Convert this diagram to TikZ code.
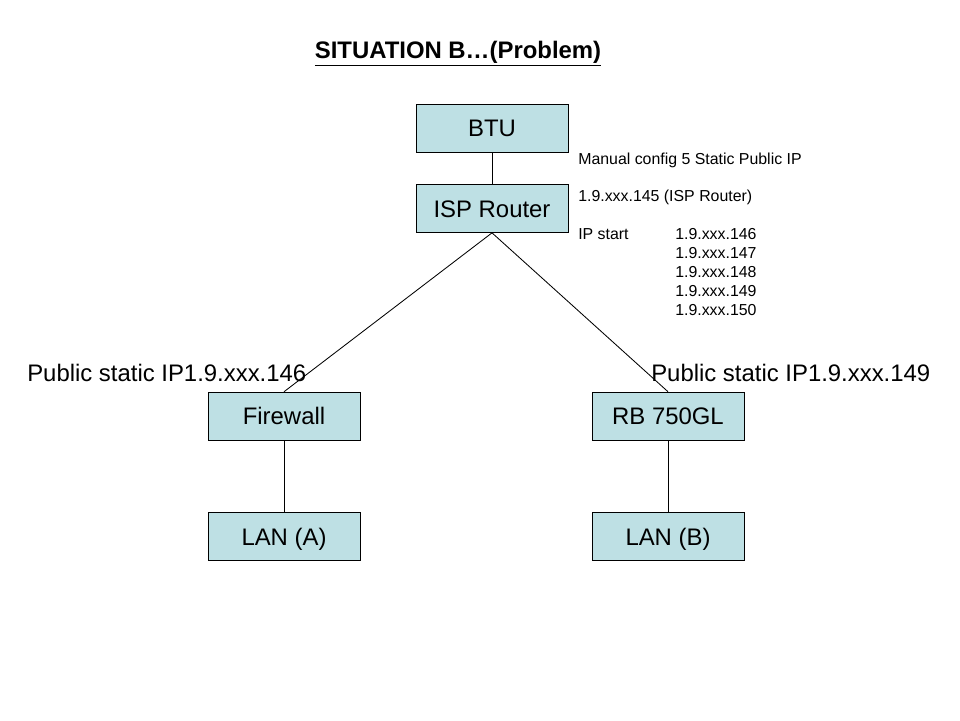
\documentclass[tikz,border=0pt]{standalone}
\usepackage{fontspec}
\setmainfont{Liberation Sans}
\usepackage{xcolor}
\usetikzlibrary{positioning}
\definecolor{boxfill}{RGB}{190,224,228}

\begin{document}
\begin{tikzpicture}[
  node distance=0.8cm,
  dev/.style={draw, fill=boxfill, minimum width=3.8cm, minimum height=1.2cm,
              inner sep=0pt, text height=12.2pt, text depth=0pt,
              font=\fontsize{17}{19}\selectfont},
  lbl/.style={inner sep=0pt, font=\fontsize{17}{19}\selectfont},
  wire/.style={line width=0.6pt}
]
\useasboundingbox (0,0) rectangle (24,-18);
\node[font=\bfseries\fontsize{17}{20}\selectfont] (title) at (11.45,-1.35) {\underline{SITUATION B…(Problem)}};
\node[dev] (btu) at (12.3,-3.2) {BTU};
\node[dev, below=of btu] (isp) {ISP Router};
\node[dev] (fw) at (7.1,-10.4) {Firewall};
\node[dev, below=1.8cm of fw] (lana) {LAN (A)};
\node[dev] (rb) at (16.7,-10.4) {RB 750GL};
\node[dev, below=1.8cm of rb] (lanb) {LAN (B)};
% address notes
\node[anchor=base west, inner sep=0pt, font=\fontsize{11.3}{13.5}\selectfont] (note) at (14.45,-4.1) {%
  \begin{tabular}[t]{@{}p{2.425cm}@{}l@{}}
  \multicolumn{2}{@{}l@{}}{Manual config 5 Static Public IP}\\
  \\
  \multicolumn{2}{@{}l@{}}{1.9.xxx.145 (ISP Router)}\\
  \\
  IP start & 1.9.xxx.146\\
           & 1.9.xxx.147\\
           & 1.9.xxx.148\\
           & 1.9.xxx.149\\
           & 1.9.xxx.150
  \end{tabular}};
\node[lbl, anchor=west] (ipa) at (0.675,-9.325) {Public static IP1.9.xxx.146};
\node[lbl, anchor=west] (ipb) at (16.275,-9.325) {Public static IP1.9.xxx.149};
\draw[wire] (btu) -- (isp);
\draw[wire] (isp.south) -- (fw.north);
\draw[wire] (isp.south) -- (rb.north);
\draw[wire] (fw) -- (lana);
\draw[wire] (rb) -- (lanb);
\end{tikzpicture}
\end{document}
